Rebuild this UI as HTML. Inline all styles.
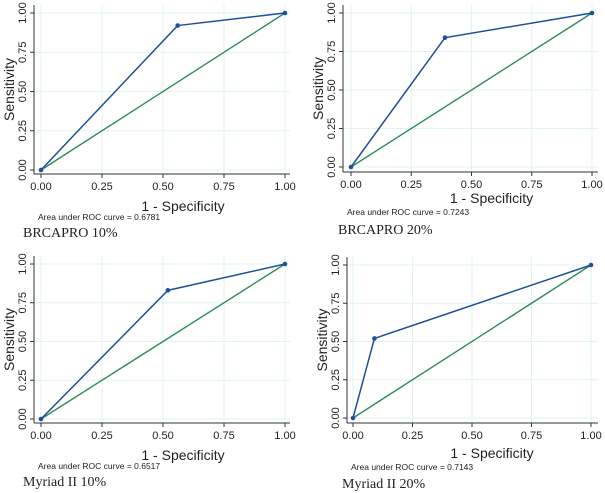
<!DOCTYPE html>
<html><head><meta charset="utf-8"><style>
body{margin:0;background:#fff;width:605px;height:493px;overflow:hidden}
svg{display:block}
.t{font-family:"Liberation Sans",sans-serif;fill:#222}
.s{font-family:"Liberation Serif",serif;fill:#222}
</style></head><body>
<svg id="c" width="605" height="493"></svg>
<script>
const titles=["BRCAPRO 10%","BRCAPRO 20%","Myriad II 10%","Myriad II 20%"];
const aucs=["0.6781","0.7243","0.6517","0.7143"];
const fprVals=[[0,0.56,1],[0,0.39,1],[0,0.52,1],[0,0.09,1]];
const tprVals=[[0,0.92,1],[0,0.84,1],[0,0.83,1],[0,0.52,1]];
const ticks=[0,0.25,0.5,0.75,1];
const tickLabels=["0.00","0.25","0.50","0.75","1.00"];
const panels=[
 {x0:41,x1:285,y0:170,y1:13,ax:34,ay:174,top:5,right:290,tY:37,aY:46,lY:63,lX:23},
 {x0:351,x1:592,y0:167,y1:13,ax:343,ay:172,top:5,right:598,tY:31,aY:43,lY:62,lX:338},
 {x0:41,x1:285,y0:419,y1:264,ax:34,ay:423,top:256,right:290,tY:37,aY:46,lY:63,lX:23},
 {x0:353,x1:591,y0:418,y1:265,ax:347,ay:423,top:257,right:598,tY:35,aY:47,lY:65,lX:342}];
const svg=document.getElementById('c');const NS="http://www.w3.org/2000/svg";
function mk(t,a,p){const e=document.createElementNS(NS,t);for(const k in a)e.setAttribute(k,a[k]);(p||svg).appendChild(e);return e;}
panels.forEach((P,i)=>{
 const g=mk('g',{});
 
 
 const sx=v=>P.x0+v*(P.x1-P.x0), sy=v=>P.y0+v*(P.y1-P.y0);
 ticks.forEach((v,k)=>{
  mk('line',{x1:sx(v),x2:sx(v),y1:P.top,y2:P.ay,stroke:'#dff3ef','stroke-width':1},g);
  mk('line',{x1:P.ax,x2:P.right,y1:sy(v),y2:sy(v),stroke:'#dff3ef','stroke-width':1},g);
  mk('line',{x1:sx(v),x2:sx(v),y1:P.ay,y2:P.ay+4,stroke:'#333'},g);
  mk('line',{x1:P.ax-4,x2:P.ax,y1:sy(v),y2:sy(v),stroke:'#333'},g);
  const tx=mk('text',{x:sx(v),y:P.ay+16,'text-anchor':'middle','font-size':11,class:'t'},g);tx.textContent=tickLabels[k];
  const ty=mk('text',{x:0,y:0,'text-anchor':'middle','font-size':11,class:'t',transform:`translate(${P.ax-8},${sy(v)}) rotate(-90)`},g);ty.textContent=tickLabels[k];
 });
 mk('line',{x1:P.ax,x2:P.ax,y1:P.top,y2:P.ay,stroke:'#333'},g);
 mk('line',{x1:P.ax,x2:P.right,y1:P.ay,y2:P.ay,stroke:'#333'},g);
 mk('line',{x1:sx(0),y1:sy(0),x2:sx(1),y2:sy(1),stroke:'#2e8b57','stroke-width':1.4},g);
 const fp=fprVals[i],tp=tprVals[i];
 const pl=mk('polyline',{points:fp.map((v,k)=>sx(v)+','+sy(tp[k])).join(' '),fill:'none',stroke:'#1f4e9a','stroke-width':1.5},g);
 
 fp.forEach((v,k)=>{const c=mk('circle',{cx:sx(v),cy:sy(tp[k]),r:2.3,fill:'#1f4e9a'},g);
  });
 const yl=mk('text',{x:0,y:0,'text-anchor':'middle','font-size':14,class:'t',transform:`translate(${P.ax-20},${(P.ay+P.top)/2}) rotate(-90)`},g);yl.textContent='Sensitivity';
 
 const xl=mk('text',{x:(P.x0+P.x1)/2+20,y:P.ay+P.tY,'text-anchor':'middle','font-size':14,class:'t'},g);xl.textContent='1 - Specificity';
 
 const at=mk('text',{x:P.ax+4,y:P.ay+P.aY,'font-size':8.5,class:'t'},g);at.textContent='Area under ROC curve = '+aucs[i];
 
 const tt=mk('text',{x:P.lX,y:P.ay+P.lY,'font-size':14,class:'s'},g);tt.textContent=titles[i];
 
});
</script>
</body></html>
